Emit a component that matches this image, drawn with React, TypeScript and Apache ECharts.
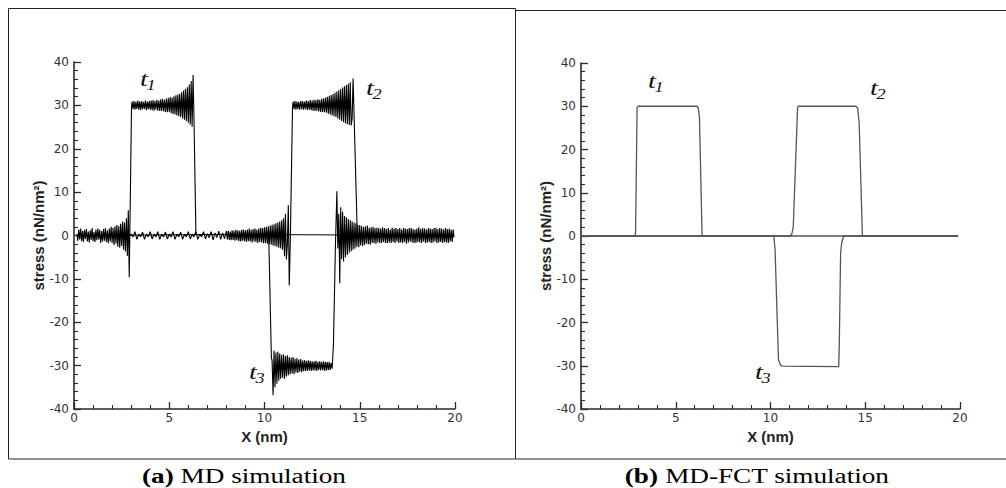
import React, { useEffect, useRef } from "react";
import * as echarts from "echarts";

// ---------- axis ranges ----------
const X_MIN = 0;
const X_MAX = 20;
const X_STEP = 5;
const Y_MIN = -40;
const Y_MAX = 40;
const Y_STEP = 10;

// ---------- (a) MD simulation : sampled stress values (nN/nm^2) ----------
// snapshot t1 : noise before the front, sampled from x = 0.15 nm every 0.05 nm
const MD_T1_PRE_X0 = 0.15;
const MD_T1_PRE = [
  0.4, -1.2, 1.4, -0.9, 1.6, -1.3, 1.0, -1.5, 1.3, -0.8,
  1.5, -1.4, 0.9, -1.6, 1.2, -1.0, 1.7, -1.3, 0.8, -1.5,
  1.4, -1.1, 1.6, -0.9, 1.3, -1.7, 1.0, -1.4, 1.5, -1.2,
  1.7, -1.5, 1.2, -1.8, 1.6, -1.4, 2.0, -1.7, 1.8, -2.2,
  2.1, -1.9, 2.4, -2.6, 2.2, -2.8, 2.7, -2.4, 3.2, -3.3,
  3.0, -3.7, 4.0, -4.7, 5.8, -9.6,
];
const MD_T1_RISE = [[2.93, 0.2], [3.02, 29.6]];
// plateau, sampled from x = 3.05 nm every 0.05 nm
const MD_T1_PLAT_X0 = 3.05;
const MD_T1_PLAT = [
  30.9, 29.1, 31.0, 29.0, 30.8, 29.2, 31.1, 29.0, 30.9, 28.9,
  31.0, 29.1, 30.8, 29.2, 31.1, 28.9, 30.9, 29.1, 31.0, 29.0,
  31.1, 28.9, 31.2, 28.8, 31.0, 29.0, 31.3, 28.8, 31.1, 28.7,
  31.4, 28.7, 31.5, 28.6, 31.3, 28.5, 31.6, 28.4, 31.7, 28.5,
  31.9, 28.2, 31.8, 28.0, 32.1, 27.9, 32.3, 27.7, 32.5, 27.5,
  32.7, 27.3, 33.0, 27.0, 33.4, 26.7, 33.8, 26.4, 34.2, 26.0,
  34.8, 25.6, 35.6, 25.1, 37.0, 26.5,
];
const MD_T1_FALL = [[6.4, 0.3], [19.95, 0]];

// snapshot t2
const MD_T2_LEAD = [[0.15, 0], [2.95, 0]];
// small beaded noise, sampled from x = 3.0 nm every 0.1 nm
const MD_T2_BEAD_X0 = 3.0;
const MD_T2_BEAD = [
  0.3, -0.3, 0.9, -0.9, 0.3, -0.3, 0.8, -0.9, 0.3, -0.3,
  0.9, -0.8, 0.3, -0.3, 0.9, -0.9, 0.3, -0.3, 0.8, -0.8,
  0.3, -0.3, 0.9, -0.9, 0.3, -0.3, 0.8, -0.9, 0.3, -0.3,
  0.9, -0.8, 0.3, -0.3, 0.9, -0.9, 0.3, -0.3, 0.9, -0.8,
  0.4, -0.5, 0.9, -1.0, 0.6, -0.5, 1.0, -0.9, 0.6, -0.7,
];
// growing noise ahead of the t2 front, sampled from x = 8.0 nm every 0.05 nm
const MD_T2_PRE_X0 = 8.0;
const MD_T2_PRE = [
  1.0, -0.9, 1.1, -1.0, 0.9, -1.1, 1.2, -1.0, 1.1, -1.2,
  1.3, -1.1, 1.2, -1.3, 1.1, -1.4, 1.3, -1.2, 1.4, -1.3,
  1.2, -1.5, 1.4, -1.3, 1.6, -1.4, 1.3, -1.6, 1.5, -1.4,
  1.6, -1.5, 1.4, -1.7, 1.6, -1.5, 1.8, -1.6, 1.7, -1.8,
  1.9, -1.7, 2.0, -1.9, 2.1, -2.0, 2.3, -2.1, 2.5, -2.3,
  2.6, -2.4, 2.8, -2.6, 3.0, -2.8,
  3.2, -3.0, 3.5, -3.3, 4.0, -4.8, 5.0, -5.5, -2.0, 7.0, -11.5,
];
const MD_T2_RISE = [[11.36, 0], [11.47, 29.6]];
// plateau, sampled from x = 11.5 nm every 0.05 nm
const MD_T2_PLAT_X0 = 11.5;
const MD_T2_PLAT = [
  30.9, 29.1, 31.0, 29.0, 30.9, 29.1, 30.8, 29.0, 31.0, 29.1,
  31.0, 29.0, 30.9, 29.1, 31.1, 28.9, 31.0, 29.0, 31.2, 28.9,
  31.1, 28.8, 31.3, 28.7, 31.2, 28.8, 31.4, 28.6, 31.3, 28.5,
  31.5, 28.5, 31.6, 28.4, 31.8, 28.3, 32.0, 28.1, 32.2, 27.9,
  32.4, 27.7, 32.6, 27.5, 32.9, 27.3, 33.2, 27.0, 33.5, 26.7,
  33.8, 26.4, 34.1, 26.1, 34.4, 25.9, 34.7, 25.7, 35.0, 25.5,
  35.3, 25.4, 27.0, 36.2, 28.0,
];
const MD_T2_FALL = [[14.87, 0.4], [19.95, 0]];

// snapshot t3
const MD_T3_LEAD = [[0.15, 0], [10.22, 0.3], [10.36, -28]];
// negative plateau, sampled from x = 10.4 nm every 0.05 nm
const MD_T3_PLAT_X0 = 10.4;
const MD_T3_PLAT = [
  -29.0, -36.8, -26.5, -35.0, -27.0, -34.2, -26.8, -33.5, -27.2, -33.0,
  -27.5, -32.8, -27.4, -33.0, -27.8, -32.5, -27.6, -32.2, -28.0, -32.0,
  -28.2, -31.8, -28.0, -32.0, -28.4, -31.6, -28.3, -31.7, -28.6, -31.4,
  -28.5, -31.5, -28.8, -31.3, -28.7, -31.2, -28.9, -31.2, -28.8, -31.1,
  -28.9, -31.2, -29.0, -31.1, -29.0, -31.1, -28.9, -31.2, -29.1, -31.0,
  -29.0, -31.1, -29.1, -31.0, -29.0, -31.2, -29.1, -31.1, -29.2, -31.0,
  -29.1, -31.0, -29.4, -30.7,
];
const MD_T3_RISE = [[13.62, -25], [13.72, -3]];
// ringing behind the t3 front, sampled from x = 13.8 nm every 0.05 nm
const MD_T3_RING_X0 = 13.8;
const MD_T3_RING = [
  10.2, -3.0, 5.0, -11.0, 6.5, -5.5, 5.5, -6.0, 4.5, -5.0,
  4.2, -4.5, 3.8, -4.0, 3.5, -3.6, 3.2, -3.3, 3.0, -3.0,
  2.8, -2.6, 2.5, -2.7, 2.4, -2.3, 2.2, -2.4, 2.0, -2.2,
  2.1, -1.9, 2.3, -2.0, 1.8, -2.1, 1.9, -1.7, 2.0, -1.8,
  1.7, -1.9, 1.8, -1.6, 1.7, -1.8, 1.6, -1.7, 1.9, -1.5,
  1.7, -1.7, 1.5, -1.8, 1.7, -1.6, 1.4, -1.7, 1.8, -1.5,
  1.6, -1.7, 1.7, -1.4, 1.5, -1.7, 1.7, -1.6, 1.4, -1.7,
  1.8, -1.5, 1.6, -1.9, 1.5, -1.6, 1.7, -1.4, 1.7, -1.6,
  1.5, -1.7, 1.4, -1.7, 1.6, -1.5, 1.9, -1.6, 1.5, -1.7,
  1.7, -1.4, 1.6, -1.7, 1.4, -1.6, 1.7, -1.5, 1.6, -1.7,
  1.5, -1.6, 1.7, -1.4, 1.8, -1.7, 1.5, -1.6, 1.7, -1.5,
  1.6, -1.7, 1.4, -1.5, 1.7, -1.6, 1.5, -1.7, 1.6, -1.4,
  1.3, -1.5, 1.4, -0.5,
];
const MD_SAMPLE_DX = 0.05;
const MD_BEAD_DX = 0.1;

// ---------- (b) MD-FCT simulation : [x (nm), stress] ----------
const FCT_T1 = [
  [0, 0], [2.84, 0], [2.88, 0.8], [2.96, 29.7], [3.0, 30], [6.12, 30],
  [6.19, 29.6], [6.25, 27.5], [6.39, 0], [19.9, 0],
];
const FCT_T2 = [
  [0, 0], [11.02, 0], [11.12, 0.4], [11.2, 2], [11.43, 29.8], [11.47, 30],
  [14.5, 30], [14.6, 29.6], [14.68, 26], [14.85, 0], [19.9, 0],
];
const FCT_T3 = [
  [0, 0], [10.12, 0], [10.17, 0.2], [10.24, -3], [10.42, -28.5], [10.52, -29.8],
  [10.62, -30.1], [13.6, -30.2], [13.63, -25], [13.7, -4], [13.76, -1.5],
  [13.86, 0], [19.9, 0],
];

// ---------- texts ----------
const X_TITLE = "X (nm)";
const Y_TITLE = "stress (nN/nm²)";
const CAPTION_A = ["(a)", " MD simulation"];
const CAPTION_B = ["(b)", " MD-FCT simulation"];
const SNAP_LABELS = ["1", "2", "3"];

function seg(x0: number, dx: number, ys: number[]) {
  return ys.map((y, i) => [Math.round((x0 + i * dx) * 1000) / 1000, y]);
}

const MD_T1 = [
  ...seg(MD_T1_PRE_X0, MD_SAMPLE_DX, MD_T1_PRE),
  ...MD_T1_RISE,
  ...seg(MD_T1_PLAT_X0, MD_SAMPLE_DX, MD_T1_PLAT),
  ...MD_T1_FALL,
];
const MD_T2 = [
  ...MD_T2_LEAD,
  ...seg(MD_T2_BEAD_X0, MD_BEAD_DX, MD_T2_BEAD),
  ...seg(MD_T2_PRE_X0, MD_SAMPLE_DX, MD_T2_PRE),
  ...MD_T2_RISE,
  ...seg(MD_T2_PLAT_X0, MD_SAMPLE_DX, MD_T2_PLAT),
  ...MD_T2_FALL,
];
const MD_T3 = [
  ...MD_T3_LEAD,
  ...seg(MD_T3_PLAT_X0, MD_SAMPLE_DX, MD_T3_PLAT),
  ...MD_T3_RISE,
  ...seg(MD_T3_RING_X0, MD_SAMPLE_DX, MD_T3_RING),
];

const AXIS_COLOR = "#2a2a2a";
const SANS = "'DejaVu Sans', 'Liberation Sans', Arial, sans-serif";
const TITLE_FONT = "'Liberation Sans', Arial, sans-serif";
const SERIF = "'Liberation Serif', 'Times New Roman', serif";
const STRETCH = 1.36;

function xAxisCfg(gridIndex: number) {
  return {
    type: "value",
    gridIndex,
    min: X_MIN,
    max: X_MAX,
    interval: X_STEP,
    name: X_TITLE,
    nameLocation: "middle",
    nameGap: 15,
    nameTextStyle: { fontFamily: TITLE_FONT, fontWeight: "bold", fontSize: 15, color: "#222" },
    axisLine: { show: true, onZero: false, lineStyle: { color: AXIS_COLOR, width: 1.6 } },
    axisTick: { show: true, inside: true, length: 7, lineStyle: { color: AXIS_COLOR, width: 1.3 } },
    minorTick: { show: true, splitNumber: 5, length: 4, lineStyle: { color: AXIS_COLOR, width: 1.1 } },
    splitLine: { show: false },
    minorSplitLine: { show: false },
    axisLabel: { color: "#333", fontFamily: SANS, fontSize: 12, margin: 3 },
  };
}

function yAxisCfg(gridIndex: number) {
  return {
    type: "value",
    gridIndex,
    min: Y_MIN,
    max: Y_MAX,
    interval: Y_STEP,
    name: Y_TITLE,
    nameLocation: "middle",
    nameRotate: 90,
    nameGap: 28,
    nameTextStyle: { fontFamily: TITLE_FONT, fontWeight: "bold", fontSize: 15, color: "#222" },
    axisLine: { show: true, onZero: false, lineStyle: { color: AXIS_COLOR, width: 1.6 } },
    axisTick: { show: true, inside: true, length: 7, lineStyle: { color: AXIS_COLOR, width: 1.3 } },
    minorTick: { show: true, splitNumber: 5, length: 4, lineStyle: { color: AXIS_COLOR, width: 1.1 } },
    splitLine: { show: false },
    minorSplitLine: { show: false },
    axisLabel: { color: "#333", fontFamily: SANS, fontSize: 12, margin: 5 },
  };
}

function lineSeries(data: number[][], idx: number, color: string, width: number) {
  return {
    type: "line",
    xAxisIndex: idx,
    yAxisIndex: idx,
    data,
    symbol: "none",
    showSymbol: false,
    smooth: false,
    lineStyle: { color, width },
    z: 2,
  };
}

function snapLabel(x: number, y: number, sub: string) {
  return {
    type: "group",
    x,
    y,
    scaleX: 1.3,
    children: [
      {
        type: "text",
        x: 0,
        y: 0,
        style: {
          text: "t",
          fontFamily: SERIF,
          fontStyle: "italic",
          fontSize: 22,
          fill: "#111",
          textAlign: "center",
          align: "center",
          textVerticalAlign: "middle",
          verticalAlign: "middle",
        },
      },
      {
        type: "text",
        x: 5.5,
        y: 7,
        style: {
          text: sub,
          fontFamily: SERIF,
          fontStyle: "italic",
          fontSize: 14,
          fill: "#111",
          textAlign: "center",
          align: "center",
          textVerticalAlign: "middle",
          verticalAlign: "middle",
        },
      },
    ],
  };
}

function caption(x: number, y: number, parts: string[]) {
  return {
    type: "text",
    x,
    y,
    scaleX: STRETCH,
    style: {
      text: `{b|${parts[0]}}{r|${parts[1]}}`,
      rich: {
        b: { fontFamily: SERIF, fontWeight: "bold", fontSize: 20, fill: "#000", color: "#000" },
        r: { fontFamily: SERIF, fontSize: 20, fill: "#000", color: "#000" },
      },
      fontFamily: SERIF,
      fontSize: 20,
      fill: "#000",
      textAlign: "center",
      align: "center",
      textVerticalAlign: "middle",
      verticalAlign: "middle",
    },
  };
}

export default function App() {
  const ref = useRef<HTMLDivElement>(null);

  useEffect(() => {
    if (!ref.current) return;
    const chart = echarts.init(ref.current, undefined, { renderer: "svg" });
    const option: any = {
      animation: false,
      backgroundColor: "#fff",
      grid: [
        { left: 74, top: 62, width: 381, height: 347 },
        { left: 581, top: 63, width: 379, height: 346 },
      ],
      xAxis: [xAxisCfg(0), xAxisCfg(1)],
      yAxis: [yAxisCfg(0), yAxisCfg(1)],
      series: [
        lineSeries(MD_T1, 0, "#000", 1.1),
        lineSeries(MD_T2, 0, "#000", 1.1),
        lineSeries(MD_T3, 0, "#000", 1.1),
        lineSeries(FCT_T1, 1, "#555", 1.3),
        lineSeries(FCT_T2, 1, "#555", 1.3),
        lineSeries(FCT_T3, 1, "#555", 1.3),
      ],
      graphic: [
        {
          type: "rect",
          shape: { x: 8.5, y: 8.5, width: 507, height: 450.5 },
          style: { fill: "none", stroke: "#222", lineWidth: 1 },
          silent: true,
        },
        {
          type: "polyline",
          shape: { points: [[516, 10.5], [1006, 10.5]] },
          style: { fill: "none", stroke: "#222", lineWidth: 1 },
          silent: true,
        },
        {
          type: "polyline",
          shape: { points: [[516, 459], [1006, 459]] },
          style: { fill: "none", stroke: "#222", lineWidth: 1 },
          silent: true,
        },
        snapLabel(144, 79, SNAP_LABELS[0]),
        snapLabel(370, 88, SNAP_LABELS[1]),
        snapLabel(253, 372, SNAP_LABELS[2]),
        snapLabel(652, 81, SNAP_LABELS[0]),
        snapLabel(874, 88, SNAP_LABELS[1]),
        snapLabel(759, 372, SNAP_LABELS[2]),
        caption(244, 476, CAPTION_A),
        caption(757, 476, CAPTION_B),
      ],
    };
    chart.setOption(option);
    return () => chart.dispose();
  }, []);

  return (
    <div
      ref={ref}
      style={{ position: "absolute", left: 0, top: 0, width: 1006, height: 488, background: "#fff" }}
    />
  );
}
